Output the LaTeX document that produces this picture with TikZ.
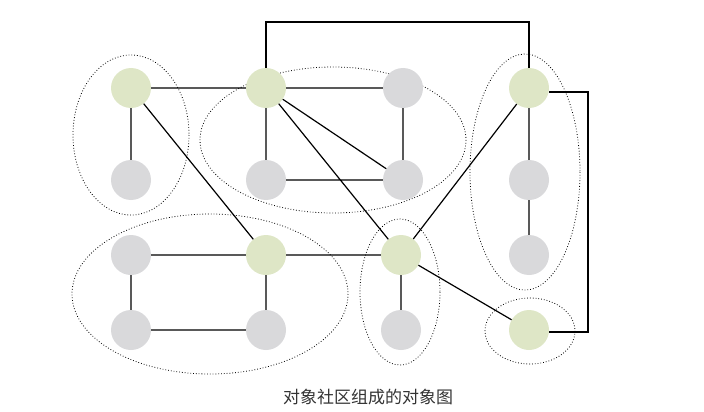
\documentclass[tikz,border=0pt]{standalone}
\usepackage{fontspec}
\newfontfamily\cjk{Noto Sans CJK SC}
\begin{document}
\begin{tikzpicture}[x=1pt,y=-1pt,
  gn/.style={circle,fill=grn,minimum size=40pt,inner sep=0pt},
  gy/.style={circle,fill=gry,minimum size=40pt,inner sep=0pt},
  grp/.style={draw,dotted,line width=0.8pt},
  ln/.style={line width=1.2pt}]
\definecolor{grn}{HTML}{DEE6C6}
\definecolor{gry}{HTML}{D9D9DB}
\useasboundingbox (0,0) rectangle (704,412);
\draw[grp] (131,135) ellipse [x radius=58,y radius=80];
\draw[grp] (333,140) ellipse [x radius=133,y radius=73];
\draw[grp] (525,172) ellipse [x radius=55,y radius=118];
\draw[grp] (210,294) ellipse [x radius=138,y radius=80];
\draw[grp] (400,292) ellipse [x radius=40,y radius=73];
\draw[grp] (530,331) ellipse [x radius=45,y radius=33];
\node[gn] (A) at (131,88) {}; \node[gy] (B) at (131,180) {};
\node[gn] (C) at (266,88) {}; \node[gy] (D) at (403,88) {};
\node[gy] (E) at (266,180) {}; \node[gy] (F) at (403,180) {};
\node[gn] (G) at (529,88) {}; \node[gy] (H) at (529,180) {};
\node[gy] (I) at (529,255) {};
\node[gy] (J) at (131,255) {}; \node[gn] (K) at (266,255) {};
\node[gy] (L) at (131,330) {}; \node[gy] (M) at (266,330) {};
\node[gn] (N) at (401,255) {}; \node[gy] (O) at (401,330) {};
\node[gn] (P) at (529,330) {};
\coordinate (c1) at (266,22); \coordinate (c2) at (529,22);
\coordinate (c3) at (588,92); \coordinate (c4) at (588,332);
\draw[ln] (A)--(B) (A)--(C) (A)--(K) (C)--(D) (C)--(E) (C)--(F) (C)--(N)
 (D)--(F) (E)--(F) (G)--(H) (H)--(I) (G)--(N) (J)--(K) (J)--(L) (K)--(M)
 (L)--(M) (K)--(N) (N)--(O) (N)--(P);
\draw[ln] (C.north)--(c1)--(c2)--(G.north);
\draw[ln] (G.east|-c3)--(c3)--(c4)--(P.east|-c4);
\node[font=\cjk\fontsize{17}{19}\selectfont,text=black!80] (cap) at (368,397) {对象社区组成的对象图};
\end{tikzpicture}
\end{document}
